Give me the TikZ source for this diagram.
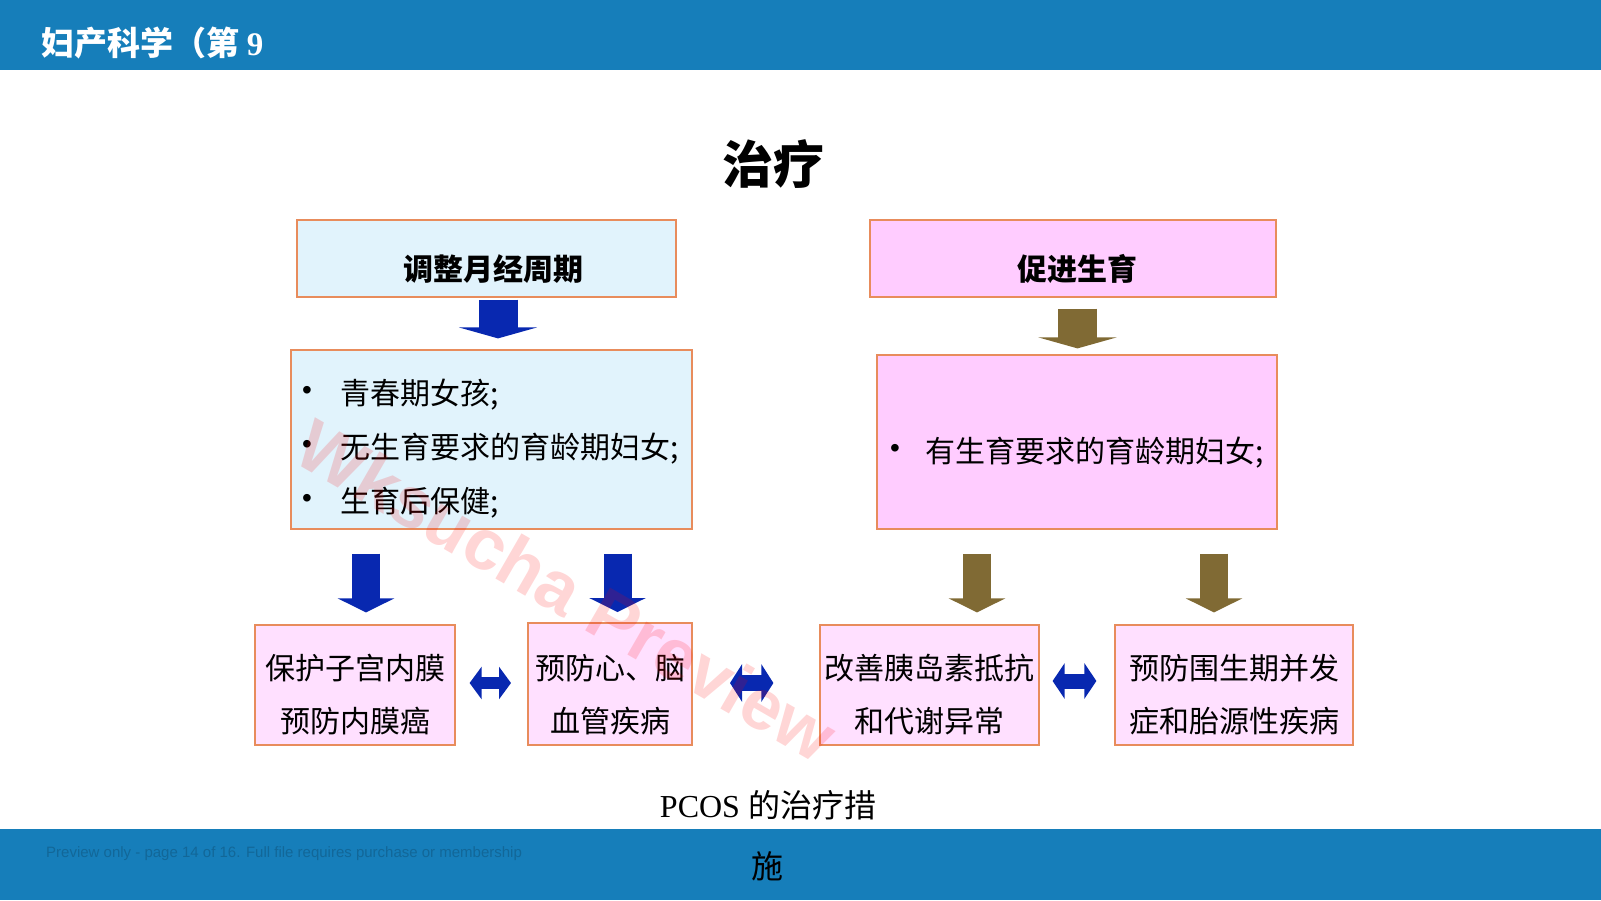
\documentclass[tikz,border=0pt]{standalone}
\usepackage{fontspec}
\setmainfont{Liberation Serif}
\newfontfamily\cjk{Noto Sans CJK SC}
\newfontfamily\sans{Liberation Sans}
\usetikzlibrary{arrows.meta,positioning}
\definecolor{barblue}{RGB}{22,126,186}
\definecolor{boxline}{RGB}{232,140,92}
\definecolor{lightblue}{RGB}{225,243,252}
\definecolor{pinkfill}{RGB}{255,204,255}
\definecolor{palepink}{RGB}{255,224,255}
\definecolor{arrowblue}{RGB}{8,40,176}
\definecolor{arrowbrown}{RGB}{128,106,52}
\newcommand\dotitem[1]{\makebox[#1][l]{\raisebox{5pt}{\sans\fontsize{28pt}{28pt}\selectfont\textbullet}}}

\begin{document}
\begin{tikzpicture}[x=1pt, y=-1pt,
    box/.style={rectangle, draw=boxline, line width=1.2pt, inner sep=0pt},
    txt/.style={inner sep=0pt, font=\cjk\fontsize{30pt}{53pt}\selectfont, align=center},
    head/.style={inner sep=0pt, font=\cjk\bfseries\fontsize{30pt}{30pt}\selectfont},
    item/.style={inner sep=0pt, anchor=west, align=left, font=\cjk\fontsize{30pt}{54pt}\selectfont},
    bigdown/.style={line width=39pt, -{Triangle[width=78pt, length=11pt]}},
    smalldown/.style={line width=28pt, arrowblue, -{Triangle[width=56pt, length=14pt]}},
    twoway/.style={arrowblue, {Triangle[width=#1, length=12pt]}-{Triangle[width=#1, length=12pt]}}
]
    \useasboundingbox (0,0) rectangle (1601,900);
    \fill[barblue] (0,0) rectangle (1601,69.5);
    \fill[barblue] (0,829) rectangle (1601,900);
    \node[anchor=west, inner sep=0pt, text=white, font=\cjk\bfseries\fontsize{33pt}{33pt}\selectfont] (course) at (41,43) {妇产科学（第 {\rmfamily 9}};
    \node[anchor=west, inner sep=0pt, text=barblue!82!black, font=\sans\fontsize{15pt}{15pt}\selectfont] (note) at (46,854) {Preview only - page 14 of 16. Full file requires purchase or membership};

    \node[font=\cjk\bfseries\fontsize{51pt}{51pt}\selectfont, inner sep=0pt] (title) at (773,164) {治疗};

    \node[box, fill=lightblue, minimum width=379pt, minimum height=77pt] (adjust) at (486.5,258.5) {};
    \node[box, fill=pinkfill, minimum width=406pt, minimum height=77pt] (promote) at (1073,258.5) {};
    \node[box, fill=lightblue, minimum width=401pt, minimum height=179pt] (nofert) at (491.5,439.5) {};
    \node[box, fill=pinkfill, minimum width=400pt, minimum height=174pt] (fert) at (1077,442) {};
    \node[box, fill=palepink, minimum width=200pt, minimum height=120pt] (protect) at (355,685) {};
    \node[box, fill=palepink, line width=2pt, minimum width=164pt, minimum height=122pt] (prevent) at (610,684) {};
    \node[box, fill=palepink, minimum width=219pt, minimum height=120pt] (improve) at (929.5,685) {};
    \node[box, fill=palepink, minimum width=238pt, minimum height=120pt] (perinatal) at (1234,685) {};

    \node[head] (adjustlbl) at (493,269) {调整月经周期};
    \node[head] (promotelbl) at (1077,269) {促进生育};
    \node[item] (nofertlbl) at (302,449) {\dotitem{38pt}青春期女孩;\\\dotitem{38pt}无生育要求的育龄期妇女;\\\dotitem{38pt}生育后保健;};
    \node[item] (fertlbl) at (890,453) {\dotitem{35pt}有生育要求的育龄期妇女;};
    \node[txt] (protectlbl) at (355,694.5) {保护子宫内膜\\预防内膜癌};
    \node[txt] (preventlbl) at (610,694.5) {预防心、脑\\血管疾病};
    \node[txt] (improvelbl) at (929.5,694.5) {改善胰岛素抵抗\\和代谢异常};
    \node[txt] (perinatallbl) at (1234,694.5) {预防围生期并发\\症和胎源性疾病};

    \draw[bigdown, arrowblue, shorten <=2pt, shorten >=11pt] ([xshift=11.5pt]adjust.south) -- ([xshift=6.5pt]nofert.north);
    \draw[bigdown, arrowbrown, shorten <=11pt, shorten >=6pt] ([xshift=4.5pt]promote.south) -- ([xshift=0.5pt]fert.north);
    \draw[smalldown, shorten <=24pt, shorten >=12pt] ([xshift=11pt]protect.north |- nofert.south) -- ([xshift=11pt]protect.north);
    \draw[smalldown, shorten <=24pt, shorten >=10pt] ([xshift=7.5pt]prevent.north |- nofert.south) -- ([xshift=7.5pt]prevent.north);
    \draw[smalldown, arrowbrown, shorten <=24pt, shorten >=12pt] ([xshift=47.5pt]improve.north |- fert.south) -- ([xshift=47.5pt]improve.north);
    \draw[smalldown, arrowbrown, shorten <=24pt, shorten >=12pt] ([xshift=-20pt]perinatal.north |- fert.south) -- ([xshift=-20pt]perinatal.north);
    \draw[twoway=32pt, line width=12pt, shorten <=14pt, shorten >=16pt] ([yshift=2pt]protect.east) -- ([yshift=2pt]prevent.west |- protect.east);
    \draw[twoway=37pt, line width=16pt, shorten <=37pt, shorten >=46pt] ([yshift=1pt]prevent.east) -- ([yshift=1pt]improve.west |- prevent.east);
    \draw[twoway=35pt, line width=15pt, shorten <=13pt, shorten >=18pt] ([yshift=4pt]improve.east) -- ([yshift=4pt]perinatal.west |- improve.east);

    \node[rotate=-30, text=red, opacity=0.16, inner sep=0pt, font=\sans\bfseries\fontsize{72pt}{72pt}\selectfont] (mark) at (567,590) {Wksucha Preview};

    \node[inner sep=0pt, font=\fontsize{32pt}{32pt}\selectfont] (caption) at (768,805) {PCOS {\cjk 的治疗措}};
    \node[inner sep=0pt, font=\cjk\fontsize{32pt}{32pt}\selectfont] (captionend) at (767,866) {施};
\end{tikzpicture}
\end{document}
